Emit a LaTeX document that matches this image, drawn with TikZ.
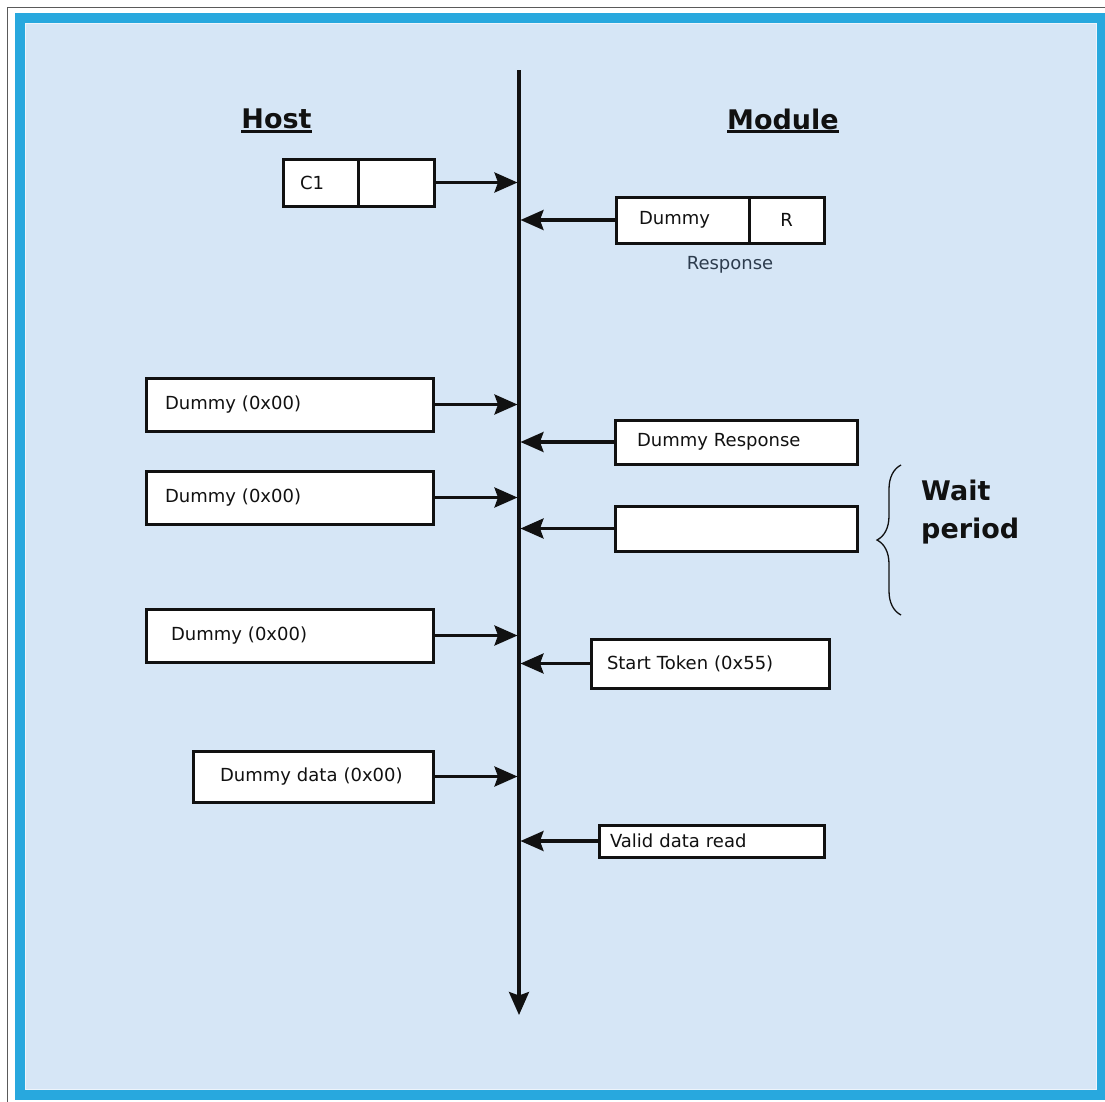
\documentclass[tikz,border=0pt]{standalone}
\usepackage{fontspec}
\setmainfont{DejaVu Sans}
\usetikzlibrary{arrows.meta,decorations.pathreplacing}
\definecolor{panel}{RGB}{214,230,246}
\definecolor{rim}{RGB}{40,168,222}
\definecolor{ink}{RGB}{17,17,17}
\definecolor{subink}{RGB}{45,60,78}
\definecolor{framegrey}{RGB}{90,90,90}

\begin{document}
\begin{tikzpicture}[x=1pt,y=-1pt,
  box/.style={draw=ink, line width=3pt, fill=white, rectangle, inner ysep=0pt,
              font=\fontsize{18}{21}\selectfont, text=ink, align=left},
  conn/.style={draw=ink, line width=3.2pt,
               -{Stealth[length=23pt,width=20pt,inset=3.5pt]}},
  heading/.style={font=\fontsize{27}{32}\selectfont\bfseries, text=ink, inner sep=0pt},
  uline/.style={draw=ink, line width=2.4pt},
  caption/.style={font=\fontsize{18}{21}\selectfont, text=subink, inner sep=0pt},
]
\useasboundingbox (0,0) rectangle (1105,1101);

% page, outer frame and panel
\fill[white] (0,0) rectangle (1105,1101);
\draw[framegrey, line width=1.5pt] (7.5,1120) -- (7.5,7.5) -- (1120,7.5);
\filldraw[fill=panel, draw=rim, line width=10pt] (20,18) rectangle (1102,1095);
\draw[white!55!panel, line width=1.2pt] (25.6,23.6) rectangle (1096.4,1089.4);

% time line
\coordinate (vtop) at (519,70);
\coordinate (vbot) at (519,1015);
\coordinate (inL) at (517.5,0);
\coordinate (inR) at (520.5,0);
\draw[conn] (vtop) -- (vbot);

% headings
\node[heading, anchor=base] (host) at (276.5,128) {Host};
\draw[uline] ([yshift=-3.5pt]host.base west) -- ([yshift=-3.5pt]host.base east);
\node[heading, anchor=base west] (module) at (727,129) {Module\ };
\draw[uline] ([yshift=-2.5pt]module.base west) -- ([yshift=-2.5pt]module.base east);

% command frame
\node[box, minimum width=75pt, minimum height=47pt, inner xsep=17pt, text width=41pt] (c1a) at (320.5,182.5) {C1};
\node[box, minimum width=76pt, minimum height=47pt] (c1b) at (396,182.5) {};
\draw[conn] (c1b.east) -- (c1b.east -| inL);

% response frame
\node[box, minimum height=46pt, inner xsep=23pt, text width=87pt] (dra) at (682.5,220) {Dummy};
\node[box, minimum width=75pt, minimum height=46pt] (drb) at (786.5,220) {R};
\node[caption] (resp) at (730,265) {Response};
\draw[conn] (dra.west) -- (dra.west -| inR);

% host side
\node[box, minimum height=53pt, inner xsep=19pt, text width=249pt] (d1) at (289.5,404.5) {Dummy (0x00)};
\node[box, minimum height=53pt, inner xsep=19pt, text width=249pt] (d2) at (289.5,497.5) {Dummy (0x00)};
\node[box, minimum height=53pt, inner xsep=25pt, text width=237pt] (d3) at (289.5,635.5) {Dummy (0x00)};
\node[box, minimum height=51pt, inner xsep=27pt, text width=186pt] (dd) at (313,776.5) {Dummy data (0x00)};
\draw[conn] (d1.east) -- (d1.east -| inL);
\draw[conn] (d2.east) -- (d2.east -| inL);
\draw[conn] (d3.east) -- (d3.east -| inL);
\draw[conn] (dd.east) -- (dd.east -| inL);

% module side
\node[box, minimum height=44pt, inner xsep=22pt, text width=198pt] (dresp) at (736,442) {Dummy Response};
\node[box, minimum width=242pt, minimum height=45pt] (blank) at (736,528.5) {};
\node[box, minimum height=49pt, inner xsep=16pt, text width=206pt] (start) at (710,663.5) {Start Token (0x55)};
\node[box, minimum height=32pt, inner xsep=11pt, text width=203pt] (valid) at (711.5,841) {Valid data read};
\draw[conn] (dresp.west) -- (dresp.west -| inR);
\draw[conn] (blank.west) -- (blank.west -| inR);
\draw[conn] (start.west) -- (start.west -| inR);
\draw[conn] (valid.west) -- (valid.west -| inR);

% wait period
\coordinate (wbot) at (901,615);
\coordinate (wtop) at (901,465);
\draw[ink, line width=1.3pt, decorate, decoration={brace, amplitude=24pt}] (wbot) -- (wtop);
\node[heading, anchor=base west] (wait) at (921,500) {Wait};
\node[heading, anchor=base west] (period) at (921,538) {period};
\end{tikzpicture}
\end{document}
